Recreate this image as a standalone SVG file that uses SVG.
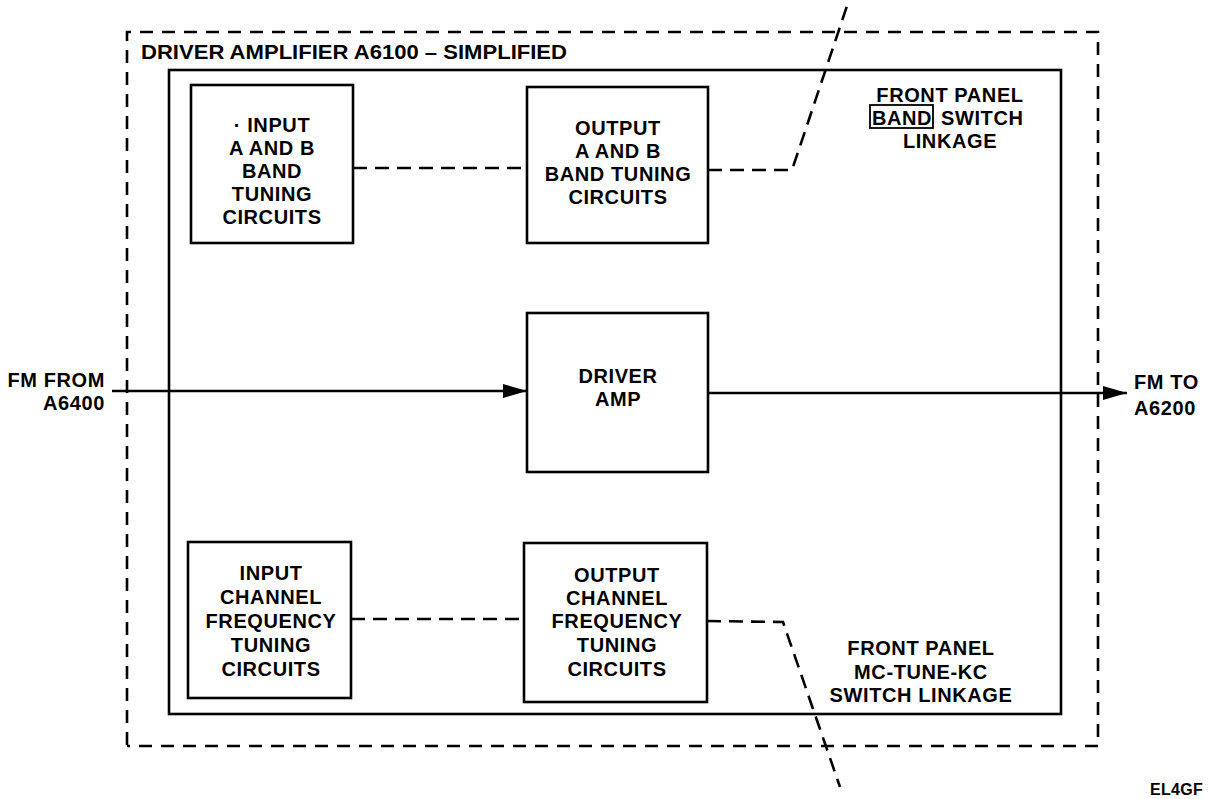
<svg xmlns="http://www.w3.org/2000/svg" width="1211" height="799" viewBox="0 0 1211 799">
<style>
.box{fill:none;stroke:#000;stroke-width:2.6}
.dash{fill:none;stroke:#000;stroke-width:2.6;stroke-dasharray:14 8}
.line{fill:none;stroke:#000;stroke-width:2.6}
text{font-family:"Liberation Sans",Arial,sans-serif;font-weight:bold;font-size:20px;letter-spacing:0.6px;fill:#000}
.c{text-anchor:middle}
</style>
<defs>
<marker id="ah" markerUnits="userSpaceOnUse" markerWidth="24" markerHeight="14" refX="24" refY="7" orient="auto">
<path d="M0,0 L24,7 L0,14 Z" fill="#000"/>
</marker>
</defs>
<rect fill="#fff" width="1211" height="799"/>
<g id="outer">
<path class="dash" d="M127,745 L127,32 L1098,32 L1098,746 L127,746" style="stroke-dasharray:13 9"/>
<text x="141" y="59" textLength="426" lengthAdjust="spacingAndGlyphs" style="letter-spacing:0">DRIVER AMPLIFIER A6100 – SIMPLIFIED</text>
</g>
<g id="inner">
<rect class="box" x="169" y="70" width="892" height="644"/>
</g>
<g id="inAB">
<rect class="box" x="191" y="85" width="162" height="158"/>
<text class="c" x="272" y="132">· INPUT</text>
<text class="c" x="272" y="155">A AND B</text>
<text class="c" x="272" y="178">BAND</text>
<text class="c" x="272" y="201">TUNING</text>
<text class="c" x="272" y="224">CIRCUITS</text>
</g>
<g id="outAB">
<rect class="box" x="527" y="87" width="181" height="156"/>
<text class="c" x="618" y="135">OUTPUT</text>
<text class="c" x="618" y="158">A AND B</text>
<text class="c" x="618" y="181">BAND TUNING</text>
<text class="c" x="618" y="204">CIRCUITS</text>
</g>
<g id="driver">
<rect class="box" x="527" y="313" width="181" height="159"/>
<text class="c" x="618" y="383">DRIVER</text>
<text class="c" x="618" y="406">AMP</text>
</g>
<g id="inCh">
<rect class="box" x="188" y="542" width="163" height="156"/>
<text class="c" x="271" y="580">INPUT</text>
<text class="c" x="271" y="604">CHANNEL</text>
<text class="c" x="271" y="628">FREQUENCY</text>
<text class="c" x="271" y="652">TUNING</text>
<text class="c" x="271" y="676">CIRCUITS</text>
</g>
<g id="outCh">
<rect class="box" x="524" y="543" width="183" height="159"/>
<text class="c" x="617" y="582">OUTPUT</text>
<text class="c" x="617" y="605">CHANNEL</text>
<text class="c" x="617" y="628">FREQUENCY</text>
<text class="c" x="617" y="652">TUNING</text>
<text class="c" x="617" y="676">CIRCUITS</text>
</g>
<g id="bandLink">
<text class="c" x="950" y="102">FRONT PANEL</text>
<rect x="870" y="105" width="63" height="23" fill="none" stroke="#000" stroke-width="1.8"/>
<text class="c" x="902" y="125">BAND</text>
<text x="941" y="125">SWITCH</text>
<text class="c" x="950" y="148">LINKAGE</text>
</g>
<g id="tuneLink">
<text class="c" x="921" y="655">FRONT PANEL</text>
<text class="c" x="921" y="679">MC-TUNE-KC</text>
<text class="c" x="921" y="702">SWITCH LINKAGE</text>
</g>
<g id="io">
<text x="105" y="387" text-anchor="end">FM FROM</text>
<text x="105" y="410" text-anchor="end">A6400</text>
<text x="1134" y="389">FM TO</text>
<text x="1134" y="415">A6200</text>
<text x="1150" y="795" style="font-size:16px;letter-spacing:0.3px">EL4GF</text>
</g>
<g id="connectors">
<path class="line" d="M112,391 L527,391" marker-end="url(#ah)"/>
<path class="line" d="M708,393 L1127,393" marker-end="url(#ah)"/>
<path class="dash" d="M353,168 L527,168"/>
<path class="dash" d="M708,170 L792,170 L847,6"/>
<path class="dash" d="M351,619 L524,619"/>
<path class="dash" d="M707,621 L783,622 L840,787"/>
</g>
</svg>
